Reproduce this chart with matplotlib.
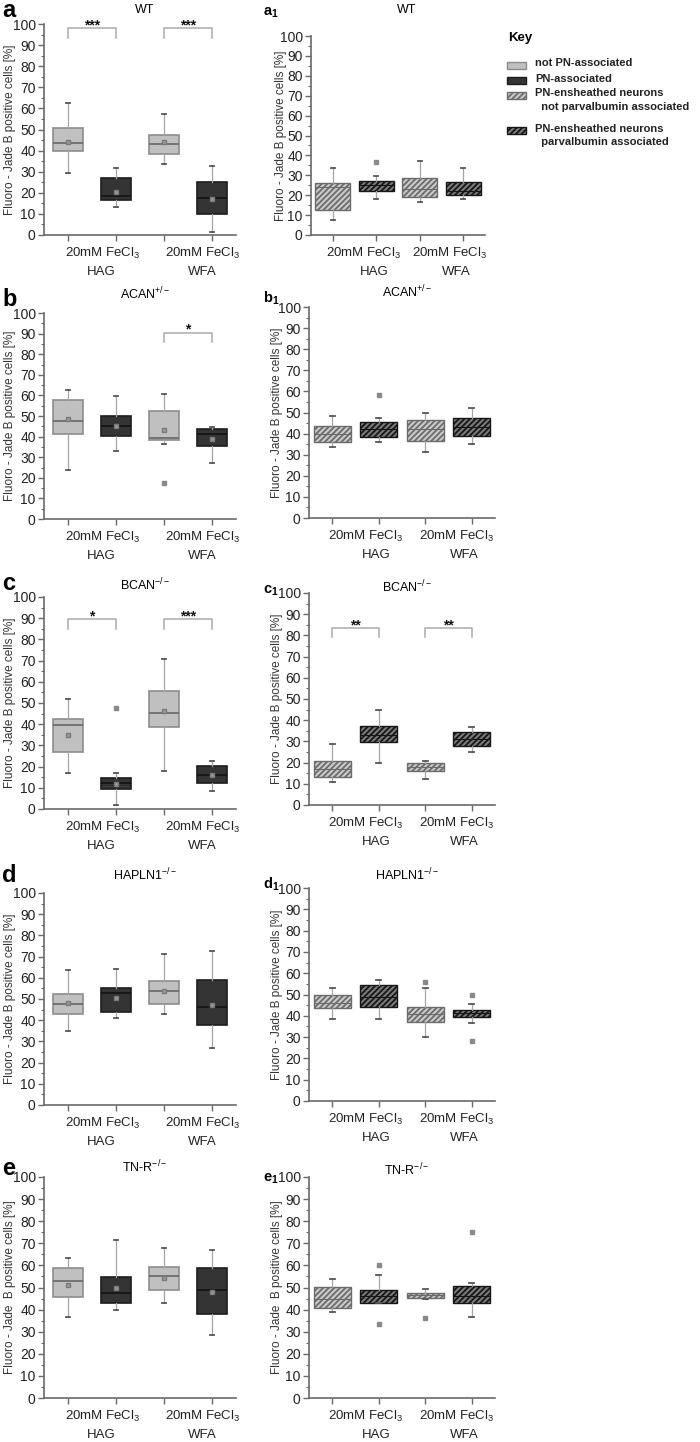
import matplotlib
matplotlib.use("Agg")
import matplotlib.pyplot as plt
import matplotlib.transforms as mtransforms
from matplotlib.patches import Rectangle
from matplotlib.ticker import MultipleLocator

plt.rcParams['font.family'] = ['Liberation Sans', 'DejaVu Sans']
plt.rcParams['mathtext.fontset'] = 'custom'
plt.rcParams['mathtext.rm'] = 'Liberation Sans'
plt.rcParams['mathtext.it'] = 'Liberation Sans:italic'
plt.rcParams['mathtext.bf'] = 'Liberation Sans:bold'
plt.rcParams['hatch.linewidth'] = 1.3

# ---------------- data ----------------
positions = [1, 2, 3, 4]
groups = ["HAG", "WFA"]
treatment = "20mM FeCl$_3$"
ylabel = "Fluoro - Jade B positive cells [%]"
ylabel_e = "Fluoro - Jade  B positive cells [%]"
key_labels = ["not PN-associated", "PN-associated",
              "PN-ensheathed neurons\n  not parvalbumin associated",
              "PN-ensheathed neurons\n  parvalbumin associated"]

titles_left = ["WT", "ACAN$^{+/-}$", "BCAN$^{-/-}$", "HAPLN1$^{-/-}$", "TN-R$^{-/-}$"]
letters = ["a", "b", "c", "d", "e"]

# left panels (not PN / PN, HAG then WFA)
a_lo = [29.5, 13.5, 33.8, 1.5]
a_q1 = [40.0, 16.5, 38.3, 10.0]
a_med = [43.5, 18.7, 43.3, 17.5]
a_q3 = [50.5, 27.0, 47.5, 25.0]
a_hi = [62.5, 31.7, 57.2, 32.5]
a_mean = [44.2, 20.5, 44.2, 17.0]
a_fl = [[], [], [], []]

b_lo = [24.0, 33.0, 36.5, 27.0]
b_q1 = [41.5, 40.5, 38.5, 35.5]
b_med = [47.5, 45.0, 39.2, 41.5]
b_q3 = [58.0, 50.0, 52.5, 43.5]
b_hi = [62.5, 59.5, 60.5, 44.5]
b_mean = [48.5, 45.0, 43.0, 39.0]
b_fl = [[], [], [17.5], []]

c_lo = [17.0, 2.0, 17.7, 8.5]
c_q1 = [26.8, 9.4, 38.9, 12.3]
c_med = [39.5, 12.5, 45.5, 16.0]
c_q3 = [42.3, 14.8, 55.5, 20.3]
c_hi = [51.8, 16.8, 70.8, 22.7]
c_mean = [35.0, 12.0, 46.0, 16.0]
c_fl = [[], [47.8], [], []]

d_lo = [35.0, 41.0, 43.0, 27.0]
d_q1 = [43.0, 44.0, 47.5, 37.7]
d_med = [47.5, 53.0, 54.0, 46.0]
d_q3 = [52.5, 55.0, 58.7, 59.0]
d_hi = [63.5, 64.0, 71.0, 72.8]
d_mean = [48.0, 50.5, 54.0, 47.0]
d_fl = [[], [], [], []]

e_lo = [36.7, 40.0, 43.0, 28.5]
e_q1 = [45.5, 43.0, 48.7, 38.2]
e_med = [52.8, 47.5, 55.0, 48.7]
e_q3 = [59.0, 54.7, 59.3, 59.0]
e_hi = [63.2, 71.5, 67.8, 66.8]
e_mean = [51.0, 50.0, 54.5, 48.0]
e_fl = [[], [], [], []]

# right panels (PN-ensheathed: not PV / PV)
a1_lo = [7.5, 18.3, 16.7, 18.0]
a1_q1 = [12.5, 22.0, 19.2, 20.0]
a1_med = [24.0, 25.0, 23.0, 22.0]
a1_q3 = [26.3, 27.3, 28.5, 26.5]
a1_hi = [33.5, 29.5, 37.0, 33.5]
a1_fl = [[], [36.5], [], []]

b1_lo = [33.5, 36.2, 31.5, 35.0]
b1_q1 = [36.0, 38.5, 36.6, 38.8]
b1_med = [40.0, 42.0, 42.0, 43.0]
b1_q3 = [43.5, 45.3, 46.3, 47.3]
b1_hi = [48.5, 47.5, 50.0, 52.0]
b1_fl = [[], [58.5], [], []]

c1_lo = [10.7, 19.6, 12.5, 25.1]
c1_q1 = [13.4, 29.5, 16.0, 27.8]
c1_med = [17.0, 33.0, 18.0, 31.0]
c1_q3 = [20.8, 37.3, 19.9, 34.2]
c1_hi = [28.8, 44.8, 20.9, 36.6]
c1_fl = [[], [], [], []]

d1_lo = [38.5, 38.5, 30.2, 36.5]
d1_q1 = [43.5, 44.3, 37.0, 39.6]
d1_med = [46.0, 49.0, 41.0, 41.5]
d1_q3 = [49.8, 54.3, 44.3, 42.8]
d1_hi = [53.2, 57.0, 53.0, 45.4]
d1_fl = [[], [], [56.0], [49.8, 28.3]]

e1_lo = [39.0, 43.0, 45.0, 36.5]
e1_q1 = [40.5, 43.0, 45.2, 43.0]
e1_med = [45.0, 46.0, 46.5, 46.0]
e1_q3 = [50.3, 49.0, 47.5, 50.5]
e1_hi = [54.0, 55.5, 49.5, 52.0]
e1_fl = [[], [60.0, 33.5], [36.0], [75.0]]

# significance: (x1, x2, leg, top, text)
sig_a = [(1, 2, 93.5, 98.0, "***"), (3, 4, 93.5, 98.0, "***")]
sig_b = [(3, 4, 86.0, 90.5, "*")]
sig_c = [(1, 2, 85.0, 89.5, "*"), (3, 4, 85.0, 89.5, "***")]
sig_c1 = [(1, 2, 79.2, 83.5, "**"), (3, 4, 79.2, 83.5, "**")]

# ---------------- styling ----------------
W, H = 700, 1442
fig = plt.figure(figsize=(7, 14.42), dpi=100)

LIGHT_FACE, LIGHT_EDGE = '#c0c0c0', '#8c8c8c'
DARK_FACE, DARK_EDGE = '#343434', '#1c1c1c'
HL_FACE, HL_EDGE = '#cacaca', '#6c6c6c'
HD_FACE, HD_EDGE = '#7a7a7a', '#161616'
AXC = '#6a6a6a'
HATCH = '//////'


def add_ax(x0, x1, ytop, ybot):
    return fig.add_axes([x0 / W, 1 - ybot / H, (x1 - x0) / W, (ybot - ytop) / H])


def style_ax(ax, labx, lab):
    ax.set_xlim(0.5, 4.5)
    ax.set_ylim(0, 100)
    for s in ['top', 'right']:
        ax.spines[s].set_visible(False)
    for s in ['left', 'bottom']:
        ax.spines[s].set_color(AXC)
        ax.spines[s].set_linewidth(1.2)
    ax.set_yticks(range(0, 101, 10))
    ax.yaxis.set_minor_locator(MultipleLocator(5))
    ax.set_xticks(positions)
    ax.set_xticklabels([])
    ax.tick_params(axis='both', which='major', length=4, width=1, color=AXC,
                   labelsize=10, labelcolor='#222222', pad=2)
    ax.tick_params(axis='y', which='minor', length=2, width=0.8, color=AXC)
    ax.set_ylabel(lab, fontsize=8.5, color='#333333')
    ax.yaxis.set_label_coords(labx, 0.5)
    ax.set_facecolor('none')


def draw_boxes(ax, lo, q1, med, q3, hi, fl, mean=None, right=False):
    stats = []
    for i in range(len(positions)):
        st = dict(whislo=lo[i], q1=q1[i], med=med[i], q3=q3[i], whishi=hi[i], fliers=fl[i])
        if mean is not None:
            st['mean'] = mean[i]
        stats.append(st)
    bp = ax.bxp(stats, positions=positions, widths=0.8 if right else 0.62,
                patch_artist=True, showmeans=mean is not None, showfliers=True,
                capwidths=0.1,
                whiskerprops=dict(color='#a5a5a5', lw=0.9),
                capprops=dict(color='#555555', lw=1.3),
                flierprops=dict(marker='s', ms=2.2, mfc='#8a8a8a', mec='#8a8a8a', ls='none'),
                meanprops=dict(marker='s', ms=2.8, mfc='#9a9a9a', mec='#7a7a7a', ls='none'),
                medianprops=dict(lw=1.3))
    for i, box in enumerate(bp['boxes']):
        dark = i % 2 == 1
        if right:
            box.set_facecolor(HD_FACE if dark else HL_FACE)
            box.set_edgecolor(HD_EDGE if dark else HL_EDGE)
            box.set_hatch(HATCH)
            box.set_linewidth(1.0)
            bp['medians'][i].set_color(HD_EDGE if dark else HL_EDGE)
            bp['medians'][i].set_linewidth(0.8)
        else:
            box.set_facecolor(DARK_FACE if dark else LIGHT_FACE)
            box.set_edgecolor(DARK_EDGE if dark else LIGHT_EDGE)
            box.set_linewidth(1.2)
            bp['medians'][i].set_color('#151515' if dark else '#6e6e6e')


def draw_sig(ax, sigs):
    for x1, x2, leg, top, txt in sigs:
        ax.plot([x1, x1, x2, x2], [leg, top, top, leg], color='#ababab', lw=1.1,
                clip_on=False, solid_joinstyle='round')
        ax.text((x1 + x2) / 2, top - 0.5, txt, ha='center', va='baseline',
                fontsize=10, fontweight='bold', color='#111111', clip_on=False)


def group_text(ax, xs_t, xs_g):
    t1 = mtransforms.offset_copy(ax.get_xaxis_transform(), fig=fig, y=-18, units='dots')
    t2 = mtransforms.offset_copy(ax.get_xaxis_transform(), fig=fig, y=-37, units='dots')
    for xt, xg, g in zip(xs_t, xs_g, groups):
        ax.text(xt, 0, treatment, transform=t1, ha='center', va='center',
                fontsize=9.5, color='#222222')
        ax.text(xg, 0, g, transform=t2, ha='center', va='center',
                fontsize=9.5, color='#222222')


def ftext(x, y, s, **kw):
    fig.text(x / W, 1 - y / H, s, **kw)


left_rows = [(24, 235), (313, 519), (597, 809), (893, 1105), (1177, 1398)]
right_rows = [(36, 235), (307, 518), (593, 805), (888, 1101), (1177, 1398)]
right_x = [(311, 485), (309, 495), (309, 495), (309, 495), (309, 495)]

left_data = [
    (a_lo, a_q1, a_med, a_q3, a_hi, a_fl, a_mean, sig_a),
    (b_lo, b_q1, b_med, b_q3, b_hi, b_fl, b_mean, sig_b),
    (c_lo, c_q1, c_med, c_q3, c_hi, c_fl, c_mean, sig_c),
    (d_lo, d_q1, d_med, d_q3, d_hi, d_fl, d_mean, []),
    (e_lo, e_q1, e_med, e_q3, e_hi, e_fl, e_mean, []),
]
right_data = [
    (a1_lo, a1_q1, a1_med, a1_q3, a1_hi, a1_fl, []),
    (b1_lo, b1_q1, b1_med, b1_q3, b1_hi, b1_fl, []),
    (c1_lo, c1_q1, c1_med, c1_q3, c1_hi, c1_fl, sig_c1),
    (d1_lo, d1_q1, d1_med, d1_q3, d1_hi, d1_fl, []),
    (e1_lo, e1_q1, e1_med, e1_q3, e1_hi, e1_fl, []),
]

title_y_left = [10, 294, 585, 875, 1167]
title_y_right = [10, 292, 587, 875, 1170]
letter_base = [17, 306, 590, 882, 1175]
rletter_base = [16, 303, 594, 889, 1182]

for r in range(5):
    lab = ylabel_e if r == 4 else ylabel
    # left panel
    yt, yb = left_rows[r]
    ax = add_ax(44, 236, yt, yb)
    lo, q1, md, q3, hi, fl, mn, sg = left_data[r]
    draw_boxes(ax, lo, q1, md, q3, hi, fl, mean=mn)
    style_ax(ax, -0.145, lab)
    draw_sig(ax, sg)
    group_text(ax, [1.72, 3.8], [1.7, 3.8])
    ftext(145, title_y_left[r], titles_left[r], ha='center', va='center', fontsize=9)
    ftext(2, letter_base[r], letters[r], ha='left', va='baseline', fontsize=17,
          fontweight='bold')

    # right panel
    yt, yb = right_rows[r]
    x0, x1 = right_x[r]
    ax2 = add_ax(x0, x1, yt, yb)
    lo, q1, md, q3, hi, fl, sg = right_data[r]
    draw_boxes(ax2, lo, q1, md, q3, hi, fl, right=True)
    style_ax(ax2, -0.14, lab)
    draw_sig(ax2, sg)
    group_text(ax2, [1.72, 3.68], [1.95, 3.85])
    ftext(407, title_y_right[r], titles_left[r], ha='center', va='center', fontsize=9)
    ftext(263, rletter_base[r], r"$\mathbf{%s}_{\mathbf{1}}$" % letters[r], ha='left',
          va='baseline', fontsize=10.5)

# ---------------- key ----------------
ftext(508, 38, "Key", ha='left', va='center', fontsize=9.5, fontweight='bold')
key_y = [65, 80, 95, 130]
key_face = [LIGHT_FACE, DARK_FACE, HL_FACE, HD_FACE]
key_edge = [LIGHT_EDGE, DARK_EDGE, HL_EDGE, HD_EDGE]
key_hatch = [None, None, HATCH, HATCH]
for lbl, ky, fc, ec, hh in zip(key_labels, key_y, key_face, key_edge, key_hatch):
    rect = Rectangle((507 / W, 1 - (ky + 3.5) / H), 19 / W, 7 / H, transform=fig.transFigure,
                     facecolor=fc, edgecolor=ec, hatch=hh, lw=1.0)
    fig.patches.append(rect)
    ftext(535, ky - 6.5, lbl, ha='left', va='top', fontsize=8.0, fontweight='bold',
          color='#222222', linespacing=1.45)

fig.savefig("out.png", dpi=100, facecolor='white')
